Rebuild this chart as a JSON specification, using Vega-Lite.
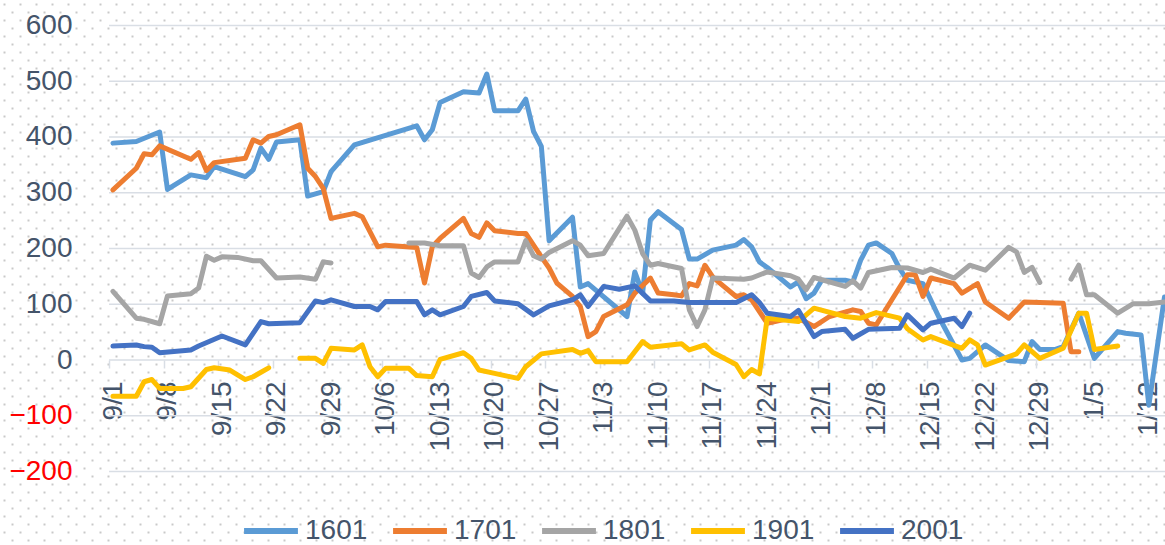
{
  "$schema": "https://vega.github.io/schema/vega-lite/v6.json",
  "width": 1165,
  "height": 545,
  "autosize": {"type": "none"},
  "padding": 0,
  "background": "#FFFFFF",
  "config": {"view": {"stroke": null}, "font": "Liberation Sans"},
  "resolve": {"scale": {"x": "independent", "y": "independent"}, "axis": {"x": "independent", "y": "independent"}},
  "layer": [
    {
      "data": {"values": [{}]},
      "mark": {"type": "rule", "opacity": 0},
      "encoding": {
        "x": {
          "datum": 0,
          "type": "quantitative",
          "scale": {"domain": [-0.5, 145.125], "nice": false, "zero": false},
          "axis": {
            "orient": "top", "labels": false, "ticks": false, "domain": false, "title": null,
            "grid": true, "tickCount": 150, "gridColor": "#C9C9C9", "gridWidth": 2, "gridDash": [2, 14],
            "gridDashOffset": {"condition": {"test": "datum.value % 2 === 0", "value": 13}, "value": 5}
          }
        }
      }
    },
    {
      "layer": [
        {
          "data": {"values": [{"g": -200}, {"g": -100}, {"g": 0}, {"g": 100}, {"g": 200}, {"g": 300}, {"g": 400}, {"g": 500}, {"g": 600}]},
          "mark": {"type": "rule", "color": "#D9DEE5", "strokeWidth": 1.5},
          "encoding": {
            "x": {"datum": {"year": 2015, "month": 9, "date": 1, "utc": true}, "type": "temporal", "scale": {"type": "utc"}},
            "x2": {"datum": {"year": 2016, "month": 1, "date": 14, "hours": 13, "minutes": 40, "utc": true}},
            "y": {"field": "g", "type": "quantitative"}
          }
        },
        {
          "data": {"values": [
{"s":"1601","g":"a","d":"2015-09-01","v":389},{"s":"1601","g":"a","d":"2015-09-04","v":392},{"s":"1601","g":"a","d":"2015-09-07","v":409},{"s":"1601","g":"a","d":"2015-09-08","v":306},{"s":"1601","g":"a","d":"2015-09-11","v":332},{"s":"1601","g":"a","d":"2015-09-13","v":327},{"s":"1601","g":"a","d":"2015-09-14","v":347},{"s":"1601","g":"a","d":"2015-09-18","v":329},{"s":"1601","g":"a","d":"2015-09-19","v":341},{"s":"1601","g":"a","d":"2015-09-20","v":380},{"s":"1601","g":"a","d":"2015-09-21","v":360},{"s":"1601","g":"a","d":"2015-09-22","v":391},{"s":"1601","g":"a","d":"2015-09-25","v":395},{"s":"1601","g":"a","d":"2015-09-26","v":294},{"s":"1601","g":"a","d":"2015-09-28","v":302},{"s":"1601","g":"a","d":"2015-09-29","v":338},{"s":"1601","g":"a","d":"2015-10-02","v":386},{"s":"1601","g":"a","d":"2015-10-10","v":420},{"s":"1601","g":"a","d":"2015-10-11","v":395},{"s":"1601","g":"a","d":"2015-10-12","v":413},{"s":"1601","g":"a","d":"2015-10-13","v":462},{"s":"1601","g":"a","d":"2015-10-16","v":481},{"s":"1601","g":"a","d":"2015-10-18","v":479},{"s":"1601","g":"a","d":"2015-10-19","v":513},{"s":"1601","g":"a","d":"2015-10-20","v":447},{"s":"1601","g":"a","d":"2015-10-23","v":447},{"s":"1601","g":"a","d":"2015-10-24","v":468},{"s":"1601","g":"a","d":"2015-10-25","v":410},{"s":"1601","g":"a","d":"2015-10-26","v":383},{"s":"1601","g":"a","d":"2015-10-27","v":214},{"s":"1601","g":"a","d":"2015-10-30","v":256},{"s":"1601","g":"a","d":"2015-10-31","v":131},{"s":"1601","g":"a","d":"2015-11-01","v":137},{"s":"1601","g":"a","d":"2015-11-06","v":78},{"s":"1601","g":"a","d":"2015-11-07","v":158},{"s":"1601","g":"a","d":"2015-11-08","v":120},{"s":"1601","g":"a","d":"2015-11-09","v":251},{"s":"1601","g":"a","d":"2015-11-10","v":266},{"s":"1601","g":"a","d":"2015-11-13","v":234},{"s":"1601","g":"a","d":"2015-11-14","v":181},{"s":"1601","g":"a","d":"2015-11-15","v":181},{"s":"1601","g":"a","d":"2015-11-17","v":197},{"s":"1601","g":"a","d":"2015-11-20","v":206},{"s":"1601","g":"a","d":"2015-11-21","v":216},{"s":"1601","g":"a","d":"2015-11-22","v":203},{"s":"1601","g":"a","d":"2015-11-23","v":176},{"s":"1601","g":"a","d":"2015-11-24","v":166},{"s":"1601","g":"a","d":"2015-11-27","v":131},{"s":"1601","g":"a","d":"2015-11-28","v":140},{"s":"1601","g":"a","d":"2015-11-29","v":110},{"s":"1601","g":"a","d":"2015-11-30","v":120},{"s":"1601","g":"a","d":"2015-12-01","v":143},{"s":"1601","g":"a","d":"2015-12-04","v":143},{"s":"1601","g":"a","d":"2015-12-05","v":140},{"s":"1601","g":"a","d":"2015-12-06","v":179},{"s":"1601","g":"a","d":"2015-12-07","v":206},{"s":"1601","g":"a","d":"2015-12-08","v":210},{"s":"1601","g":"a","d":"2015-12-10","v":191},{"s":"1601","g":"a","d":"2015-12-11","v":164},{"s":"1601","g":"a","d":"2015-12-12","v":143},{"s":"1601","g":"a","d":"2015-12-14","v":137},{"s":"1601","g":"a","d":"2015-12-16","v":78},{"s":"1601","g":"a","d":"2015-12-19","v":0},{"s":"1601","g":"a","d":"2015-12-20","v":3},{"s":"1601","g":"a","d":"2015-12-22","v":27},{"s":"1601","g":"a","d":"2015-12-25","v":-1},{"s":"1601","g":"a","d":"2015-12-27","v":-3},{"s":"1601","g":"a","d":"2015-12-28","v":33},{"s":"1601","g":"a","d":"2015-12-29","v":19},{"s":"1601","g":"a","d":"2015-12-31","v":19},{"s":"1601","g":"a","d":"2016-01-01","v":24},{"s":"1601","g":"a","d":"2016-01-03","v":84},{"s":"1601","g":"a","d":"2016-01-05","v":3},{"s":"1601","g":"a","d":"2016-01-08","v":51},{"s":"1601","g":"a","d":"2016-01-09","v":48},{"s":"1601","g":"a","d":"2016-01-11","v":45},{"s":"1601","g":"a","d":"2016-01-12","v":-81},{"s":"1601","g":"a","d":"2016-01-14","v":113},
{"s":"1701","g":"b","d":"2015-09-01","v":305},{"s":"1701","g":"b","d":"2015-09-04","v":344},{"s":"1701","g":"b","d":"2015-09-05","v":370},{"s":"1701","g":"b","d":"2015-09-06","v":368},{"s":"1701","g":"b","d":"2015-09-07","v":384},{"s":"1701","g":"b","d":"2015-09-11","v":360},{"s":"1701","g":"b","d":"2015-09-12","v":372},{"s":"1701","g":"b","d":"2015-09-13","v":340},{"s":"1701","g":"b","d":"2015-09-14","v":354},{"s":"1701","g":"b","d":"2015-09-18","v":362},{"s":"1701","g":"b","d":"2015-09-19","v":395},{"s":"1701","g":"b","d":"2015-09-20","v":389},{"s":"1701","g":"b","d":"2015-09-21","v":401},{"s":"1701","g":"b","d":"2015-09-22","v":404},{"s":"1701","g":"b","d":"2015-09-25","v":422},{"s":"1701","g":"b","d":"2015-09-26","v":344},{"s":"1701","g":"b","d":"2015-09-27","v":329},{"s":"1701","g":"b","d":"2015-09-28","v":308},{"s":"1701","g":"b","d":"2015-09-29","v":254},{"s":"1701","g":"b","d":"2015-10-02","v":263},{"s":"1701","g":"b","d":"2015-10-03","v":257},{"s":"1701","g":"b","d":"2015-10-05","v":203},{"s":"1701","g":"b","d":"2015-10-06","v":206},{"s":"1701","g":"b","d":"2015-10-10","v":202},{"s":"1701","g":"b","d":"2015-10-11","v":138},{"s":"1701","g":"b","d":"2015-10-12","v":203},{"s":"1701","g":"b","d":"2015-10-13","v":218},{"s":"1701","g":"b","d":"2015-10-16","v":254},{"s":"1701","g":"b","d":"2015-10-17","v":227},{"s":"1701","g":"b","d":"2015-10-18","v":220},{"s":"1701","g":"b","d":"2015-10-19","v":246},{"s":"1701","g":"b","d":"2015-10-20","v":232},{"s":"1701","g":"b","d":"2015-10-23","v":227},{"s":"1701","g":"b","d":"2015-10-24","v":227},{"s":"1701","g":"b","d":"2015-10-25","v":206},{"s":"1701","g":"b","d":"2015-10-26","v":185},{"s":"1701","g":"b","d":"2015-10-27","v":165},{"s":"1701","g":"b","d":"2015-10-28","v":138},{"s":"1701","g":"b","d":"2015-10-30","v":114},{"s":"1701","g":"b","d":"2015-10-31","v":96},{"s":"1701","g":"b","d":"2015-11-01","v":42},{"s":"1701","g":"b","d":"2015-11-02","v":51},{"s":"1701","g":"b","d":"2015-11-03","v":78},{"s":"1701","g":"b","d":"2015-11-06","v":99},{"s":"1701","g":"b","d":"2015-11-07","v":120},{"s":"1701","g":"b","d":"2015-11-09","v":147},{"s":"1701","g":"b","d":"2015-11-10","v":120},{"s":"1701","g":"b","d":"2015-11-12","v":117},{"s":"1701","g":"b","d":"2015-11-13","v":115},{"s":"1701","g":"b","d":"2015-11-14","v":137},{"s":"1701","g":"b","d":"2015-11-15","v":133},{"s":"1701","g":"b","d":"2015-11-16","v":170},{"s":"1701","g":"b","d":"2015-11-17","v":149},{"s":"1701","g":"b","d":"2015-11-18","v":137},{"s":"1701","g":"b","d":"2015-11-20","v":114},{"s":"1701","g":"b","d":"2015-11-21","v":117},{"s":"1701","g":"b","d":"2015-11-22","v":108},{"s":"1701","g":"b","d":"2015-11-24","v":66},{"s":"1701","g":"b","d":"2015-11-26","v":72},{"s":"1701","g":"b","d":"2015-11-28","v":75},{"s":"1701","g":"b","d":"2015-11-30","v":60},{"s":"1701","g":"b","d":"2015-12-02","v":78},{"s":"1701","g":"b","d":"2015-12-05","v":90},{"s":"1701","g":"b","d":"2015-12-06","v":87},{"s":"1701","g":"b","d":"2015-12-07","v":66},{"s":"1701","g":"b","d":"2015-12-08","v":63},{"s":"1701","g":"b","d":"2015-12-10","v":108},{"s":"1701","g":"b","d":"2015-12-12","v":153},{"s":"1701","g":"b","d":"2015-12-13","v":153},{"s":"1701","g":"b","d":"2015-12-14","v":114},{"s":"1701","g":"b","d":"2015-12-15","v":147},{"s":"1701","g":"b","d":"2015-12-18","v":137},{"s":"1701","g":"b","d":"2015-12-19","v":120},{"s":"1701","g":"b","d":"2015-12-21","v":137},{"s":"1701","g":"b","d":"2015-12-22","v":104},{"s":"1701","g":"b","d":"2015-12-25","v":75},{"s":"1701","g":"b","d":"2015-12-27","v":104},{"s":"1701","g":"b","d":"2016-01-01","v":102},{"s":"1701","g":"b","d":"2016-01-02","v":15},{"s":"1701","g":"b","d":"2016-01-03","v":15},
{"s":"1801","g":"c1","d":"2015-09-01","v":123},{"s":"1801","g":"c1","d":"2015-09-04","v":75},{"s":"1801","g":"c1","d":"2015-09-05","v":73},{"s":"1801","g":"c1","d":"2015-09-07","v":65},{"s":"1801","g":"c1","d":"2015-09-08","v":115},{"s":"1801","g":"c1","d":"2015-09-11","v":119},{"s":"1801","g":"c1","d":"2015-09-12","v":129},{"s":"1801","g":"c1","d":"2015-09-13","v":186},{"s":"1801","g":"c1","d":"2015-09-14","v":179},{"s":"1801","g":"c1","d":"2015-09-15","v":185},{"s":"1801","g":"c1","d":"2015-09-17","v":184},{"s":"1801","g":"c1","d":"2015-09-19","v":178},{"s":"1801","g":"c1","d":"2015-09-20","v":178},{"s":"1801","g":"c1","d":"2015-09-22","v":147},{"s":"1801","g":"c1","d":"2015-09-25","v":149},{"s":"1801","g":"c1","d":"2015-09-27","v":145},{"s":"1801","g":"c1","d":"2015-09-28","v":176},{"s":"1801","g":"c1","d":"2015-09-29","v":174},
{"s":"1801","g":"c2","d":"2015-10-09","v":210},{"s":"1801","g":"c2","d":"2015-10-11","v":210},{"s":"1801","g":"c2","d":"2015-10-13","v":205},{"s":"1801","g":"c2","d":"2015-10-16","v":205},{"s":"1801","g":"c2","d":"2015-10-17","v":156},{"s":"1801","g":"c2","d":"2015-10-18","v":148},{"s":"1801","g":"c2","d":"2015-10-19","v":167},{"s":"1801","g":"c2","d":"2015-10-20","v":176},{"s":"1801","g":"c2","d":"2015-10-23","v":176},{"s":"1801","g":"c2","d":"2015-10-24","v":214},{"s":"1801","g":"c2","d":"2015-10-25","v":187},{"s":"1801","g":"c2","d":"2015-10-26","v":181},{"s":"1801","g":"c2","d":"2015-10-27","v":193},{"s":"1801","g":"c2","d":"2015-10-30","v":214},{"s":"1801","g":"c2","d":"2015-10-31","v":206},{"s":"1801","g":"c2","d":"2015-11-01","v":187},{"s":"1801","g":"c2","d":"2015-11-03","v":191},{"s":"1801","g":"c2","d":"2015-11-06","v":258},{"s":"1801","g":"c2","d":"2015-11-07","v":233},{"s":"1801","g":"c2","d":"2015-11-08","v":191},{"s":"1801","g":"c2","d":"2015-11-09","v":170},{"s":"1801","g":"c2","d":"2015-11-10","v":173},{"s":"1801","g":"c2","d":"2015-11-13","v":164},{"s":"1801","g":"c2","d":"2015-11-14","v":90},{"s":"1801","g":"c2","d":"2015-11-15","v":60},{"s":"1801","g":"c2","d":"2015-11-16","v":90},{"s":"1801","g":"c2","d":"2015-11-17","v":147},{"s":"1801","g":"c2","d":"2015-11-21","v":145},{"s":"1801","g":"c2","d":"2015-11-22","v":147},{"s":"1801","g":"c2","d":"2015-11-24","v":158},{"s":"1801","g":"c2","d":"2015-11-27","v":151},{"s":"1801","g":"c2","d":"2015-11-28","v":145},{"s":"1801","g":"c2","d":"2015-11-29","v":126},{"s":"1801","g":"c2","d":"2015-11-30","v":148},{"s":"1801","g":"c2","d":"2015-12-04","v":132},{"s":"1801","g":"c2","d":"2015-12-05","v":142},{"s":"1801","g":"c2","d":"2015-12-06","v":129},{"s":"1801","g":"c2","d":"2015-12-07","v":157},{"s":"1801","g":"c2","d":"2015-12-10","v":166},{"s":"1801","g":"c2","d":"2015-12-12","v":165},{"s":"1801","g":"c2","d":"2015-12-14","v":157},{"s":"1801","g":"c2","d":"2015-12-15","v":163},{"s":"1801","g":"c2","d":"2015-12-18","v":147},{"s":"1801","g":"c2","d":"2015-12-20","v":170},{"s":"1801","g":"c2","d":"2015-12-22","v":161},{"s":"1801","g":"c2","d":"2015-12-25","v":202},{"s":"1801","g":"c2","d":"2015-12-26","v":194},{"s":"1801","g":"c2","d":"2015-12-27","v":157},{"s":"1801","g":"c2","d":"2015-12-28","v":166},{"s":"1801","g":"c2","d":"2015-12-29","v":139},
{"s":"1801","g":"c3","d":"2016-01-02","v":145},{"s":"1801","g":"c3","d":"2016-01-03","v":170},{"s":"1801","g":"c3","d":"2016-01-04","v":117},{"s":"1801","g":"c3","d":"2016-01-05","v":117},{"s":"1801","g":"c3","d":"2016-01-08","v":84},{"s":"1801","g":"c3","d":"2016-01-10","v":101},{"s":"1801","g":"c3","d":"2016-01-12","v":101},{"s":"1801","g":"c3","d":"2016-01-14","v":104},
{"s":"1901","g":"d1","d":"2015-09-01","v":-65},{"s":"1901","g":"d1","d":"2015-09-04","v":-65},{"s":"1901","g":"d1","d":"2015-09-05","v":-39},{"s":"1901","g":"d1","d":"2015-09-06","v":-35},{"s":"1901","g":"d1","d":"2015-09-07","v":-51},{"s":"1901","g":"d1","d":"2015-09-10","v":-51},{"s":"1901","g":"d1","d":"2015-09-11","v":-48},{"s":"1901","g":"d1","d":"2015-09-13","v":-17},{"s":"1901","g":"d1","d":"2015-09-14","v":-14},{"s":"1901","g":"d1","d":"2015-09-16","v":-18},{"s":"1901","g":"d1","d":"2015-09-18","v":-35},{"s":"1901","g":"d1","d":"2015-09-19","v":-30},{"s":"1901","g":"d1","d":"2015-09-21","v":-14},
{"s":"1901","g":"d2","d":"2015-09-25","v":3},{"s":"1901","g":"d2","d":"2015-09-27","v":3},{"s":"1901","g":"d2","d":"2015-09-28","v":-6},{"s":"1901","g":"d2","d":"2015-09-29","v":21},{"s":"1901","g":"d2","d":"2015-10-02","v":18},{"s":"1901","g":"d2","d":"2015-10-03","v":27},{"s":"1901","g":"d2","d":"2015-10-04","v":-12},{"s":"1901","g":"d2","d":"2015-10-05","v":-30},{"s":"1901","g":"d2","d":"2015-10-06","v":-15},{"s":"1901","g":"d2","d":"2015-10-09","v":-15},{"s":"1901","g":"d2","d":"2015-10-10","v":-28},{"s":"1901","g":"d2","d":"2015-10-12","v":-30},{"s":"1901","g":"d2","d":"2015-10-13","v":1},{"s":"1901","g":"d2","d":"2015-10-16","v":13},{"s":"1901","g":"d2","d":"2015-10-17","v":3},{"s":"1901","g":"d2","d":"2015-10-18","v":-18},{"s":"1901","g":"d2","d":"2015-10-20","v":-24},{"s":"1901","g":"d2","d":"2015-10-23","v":-33},{"s":"1901","g":"d2","d":"2015-10-24","v":-12},{"s":"1901","g":"d2","d":"2015-10-26","v":11},{"s":"1901","g":"d2","d":"2015-10-30","v":19},{"s":"1901","g":"d2","d":"2015-10-31","v":12},{"s":"1901","g":"d2","d":"2015-11-01","v":17},{"s":"1901","g":"d2","d":"2015-11-02","v":-3},{"s":"1901","g":"d2","d":"2015-11-06","v":-3},{"s":"1901","g":"d2","d":"2015-11-08","v":33},{"s":"1901","g":"d2","d":"2015-11-09","v":23},{"s":"1901","g":"d2","d":"2015-11-13","v":29},{"s":"1901","g":"d2","d":"2015-11-14","v":18},{"s":"1901","g":"d2","d":"2015-11-16","v":27},{"s":"1901","g":"d2","d":"2015-11-17","v":14},{"s":"1901","g":"d2","d":"2015-11-20","v":-8},{"s":"1901","g":"d2","d":"2015-11-21","v":-30},{"s":"1901","g":"d2","d":"2015-11-22","v":-17},{"s":"1901","g":"d2","d":"2015-11-23","v":-25},{"s":"1901","g":"d2","d":"2015-11-24","v":75},{"s":"1901","g":"d2","d":"2015-11-28","v":69},{"s":"1901","g":"d2","d":"2015-11-30","v":93},{"s":"1901","g":"d2","d":"2015-12-04","v":78},{"s":"1901","g":"d2","d":"2015-12-06","v":75},{"s":"1901","g":"d2","d":"2015-12-08","v":85},{"s":"1901","g":"d2","d":"2015-12-11","v":75},{"s":"1901","g":"d2","d":"2015-12-12","v":56},{"s":"1901","g":"d2","d":"2015-12-14","v":36},{"s":"1901","g":"d2","d":"2015-12-15","v":42},{"s":"1901","g":"d2","d":"2015-12-19","v":21},{"s":"1901","g":"d2","d":"2015-12-20","v":36},{"s":"1901","g":"d2","d":"2015-12-21","v":27},{"s":"1901","g":"d2","d":"2015-12-22","v":-9},{"s":"1901","g":"d2","d":"2015-12-26","v":11},{"s":"1901","g":"d2","d":"2015-12-27","v":27},{"s":"1901","g":"d2","d":"2015-12-29","v":3},{"s":"1901","g":"d2","d":"2016-01-01","v":21},{"s":"1901","g":"d2","d":"2016-01-03","v":84},{"s":"1901","g":"d2","d":"2016-01-04","v":84},{"s":"1901","g":"d2","d":"2016-01-05","v":19},{"s":"1901","g":"d2","d":"2016-01-08","v":25},
{"s":"2001","g":"e","d":"2015-09-01","v":25},{"s":"2001","g":"e","d":"2015-09-04","v":27},{"s":"2001","g":"e","d":"2015-09-05","v":24},{"s":"2001","g":"e","d":"2015-09-06","v":23},{"s":"2001","g":"e","d":"2015-09-07","v":13},{"s":"2001","g":"e","d":"2015-09-11","v":18},{"s":"2001","g":"e","d":"2015-09-12","v":25},{"s":"2001","g":"e","d":"2015-09-15","v":43},{"s":"2001","g":"e","d":"2015-09-18","v":27},{"s":"2001","g":"e","d":"2015-09-20","v":69},{"s":"2001","g":"e","d":"2015-09-21","v":65},{"s":"2001","g":"e","d":"2015-09-25","v":67},{"s":"2001","g":"e","d":"2015-09-27","v":106},{"s":"2001","g":"e","d":"2015-09-28","v":103},{"s":"2001","g":"e","d":"2015-09-29","v":108},{"s":"2001","g":"e","d":"2015-10-02","v":96},{"s":"2001","g":"e","d":"2015-10-04","v":96},{"s":"2001","g":"e","d":"2015-10-05","v":90},{"s":"2001","g":"e","d":"2015-10-06","v":105},{"s":"2001","g":"e","d":"2015-10-10","v":105},{"s":"2001","g":"e","d":"2015-10-11","v":81},{"s":"2001","g":"e","d":"2015-10-12","v":90},{"s":"2001","g":"e","d":"2015-10-13","v":81},{"s":"2001","g":"e","d":"2015-10-16","v":96},{"s":"2001","g":"e","d":"2015-10-17","v":114},{"s":"2001","g":"e","d":"2015-10-19","v":121},{"s":"2001","g":"e","d":"2015-10-20","v":106},{"s":"2001","g":"e","d":"2015-10-23","v":101},{"s":"2001","g":"e","d":"2015-10-25","v":81},{"s":"2001","g":"e","d":"2015-10-27","v":97},{"s":"2001","g":"e","d":"2015-10-30","v":108},{"s":"2001","g":"e","d":"2015-10-31","v":117},{"s":"2001","g":"e","d":"2015-11-01","v":96},{"s":"2001","g":"e","d":"2015-11-03","v":132},{"s":"2001","g":"e","d":"2015-11-05","v":127},{"s":"2001","g":"e","d":"2015-11-07","v":133},{"s":"2001","g":"e","d":"2015-11-09","v":106},{"s":"2001","g":"e","d":"2015-11-12","v":106},{"s":"2001","g":"e","d":"2015-11-14","v":103},{"s":"2001","g":"e","d":"2015-11-20","v":103},{"s":"2001","g":"e","d":"2015-11-22","v":117},{"s":"2001","g":"e","d":"2015-11-23","v":103},{"s":"2001","g":"e","d":"2015-11-24","v":84},{"s":"2001","g":"e","d":"2015-11-27","v":78},{"s":"2001","g":"e","d":"2015-11-28","v":89},{"s":"2001","g":"e","d":"2015-11-30","v":42},{"s":"2001","g":"e","d":"2015-12-01","v":51},{"s":"2001","g":"e","d":"2015-12-04","v":55},{"s":"2001","g":"e","d":"2015-12-05","v":39},{"s":"2001","g":"e","d":"2015-12-07","v":55},{"s":"2001","g":"e","d":"2015-12-11","v":57},{"s":"2001","g":"e","d":"2015-12-12","v":81},{"s":"2001","g":"e","d":"2015-12-14","v":54},{"s":"2001","g":"e","d":"2015-12-15","v":66},{"s":"2001","g":"e","d":"2015-12-18","v":75},{"s":"2001","g":"e","d":"2015-12-19","v":60},{"s":"2001","g":"e","d":"2015-12-20","v":84}
          ]},
          "mark": {"type": "line", "strokeWidth": 5, "strokeCap": "round", "strokeJoin": "round"},
          "encoding": {
            "x": {
              "field": "d", "type": "temporal", "timeUnit": "utcyearmonthdate", "bandPosition": 0.5,
              "scale": {"type": "utc", "domain": [{"year": 2015, "month": 8, "date": 18, "utc": true}, {"year": 2016, "month": 1, "date": 14, "hours": 13, "minutes": 40, "utc": true}]},
              "axis": {
                "orient": "bottom", "offset": -185, "title": null, "grid": false, "domain": false,
                "values": [
                  {"year": 2015, "month": 9, "date": 1, "utc": true}, {"year": 2015, "month": 9, "date": 8, "utc": true},
                  {"year": 2015, "month": 9, "date": 15, "utc": true}, {"year": 2015, "month": 9, "date": 22, "utc": true},
                  {"year": 2015, "month": 9, "date": 29, "utc": true}, {"year": 2015, "month": 10, "date": 6, "utc": true},
                  {"year": 2015, "month": 10, "date": 13, "utc": true}, {"year": 2015, "month": 10, "date": 20, "utc": true},
                  {"year": 2015, "month": 10, "date": 27, "utc": true}, {"year": 2015, "month": 11, "date": 3, "utc": true},
                  {"year": 2015, "month": 11, "date": 10, "utc": true}, {"year": 2015, "month": 11, "date": 17, "utc": true},
                  {"year": 2015, "month": 11, "date": 24, "utc": true}, {"year": 2015, "month": 12, "date": 1, "utc": true},
                  {"year": 2015, "month": 12, "date": 8, "utc": true}, {"year": 2015, "month": 12, "date": 15, "utc": true},
                  {"year": 2015, "month": 12, "date": 22, "utc": true}, {"year": 2015, "month": 12, "date": 29, "utc": true},
                  {"year": 2016, "month": 1, "date": 5, "utc": true}, {"year": 2016, "month": 1, "date": 12, "utc": true}
                ],
                "labelExpr": "utcFormat(datum.value, '%-m/%-d')",
                "labelAngle": 270, "labelFontSize": 28, "labelFont": "Liberation Sans", "labelColor": "#44546A",
                "labelPadding": 13, "labelOffset": 4, "labelOverlap": false, "labelFlush": false, "labelBound": false,
                "tickSize": 8, "tickColor": "#D9DEE5", "tickWidth": 1.5
              }
            },
            "y": {
              "field": "v", "type": "quantitative",
              "scale": {"domain": [-331.8, 645.7], "nice": false, "zero": false},
              "axis": {
                "orient": "left", "offset": -72, "title": null, "grid": false, "domain": false, "ticks": false, "tickSize": 0,
                "values": [-200, -100, 0, 100, 200, 300, 400, 500, 600],
                "labelFontSize": 28, "labelFont": "Liberation Sans", "labelPadding": 0,
                "labelColor": {"condition": {"test": "datum.value < 0", "value": "#FF0000"}, "value": "#44546A"}
              }
            },
            "color": {
              "field": "s", "type": "nominal",
              "scale": {"domain": ["1601", "1701", "1801", "1901", "2001"], "range": ["#5B9BD5", "#ED7D31", "#A5A5A5", "#FFC000", "#4472C4"]},
              "legend": {
                "orient": "none", "legendX": 241, "legendY": 501, "direction": "horizontal", "title": null, "padding": 0,
                "symbolType": "stroke", "symbolSize": 2900, "symbolStrokeWidth": 6,
                "labelFontSize": 28, "labelFont": "Liberation Sans", "labelColor": "#44546A", "labelOffset": 4, "columnPadding": 13
              }
            },
            "detail": {"field": "g"}
          }
        }
      ]
    }
  ]
}
